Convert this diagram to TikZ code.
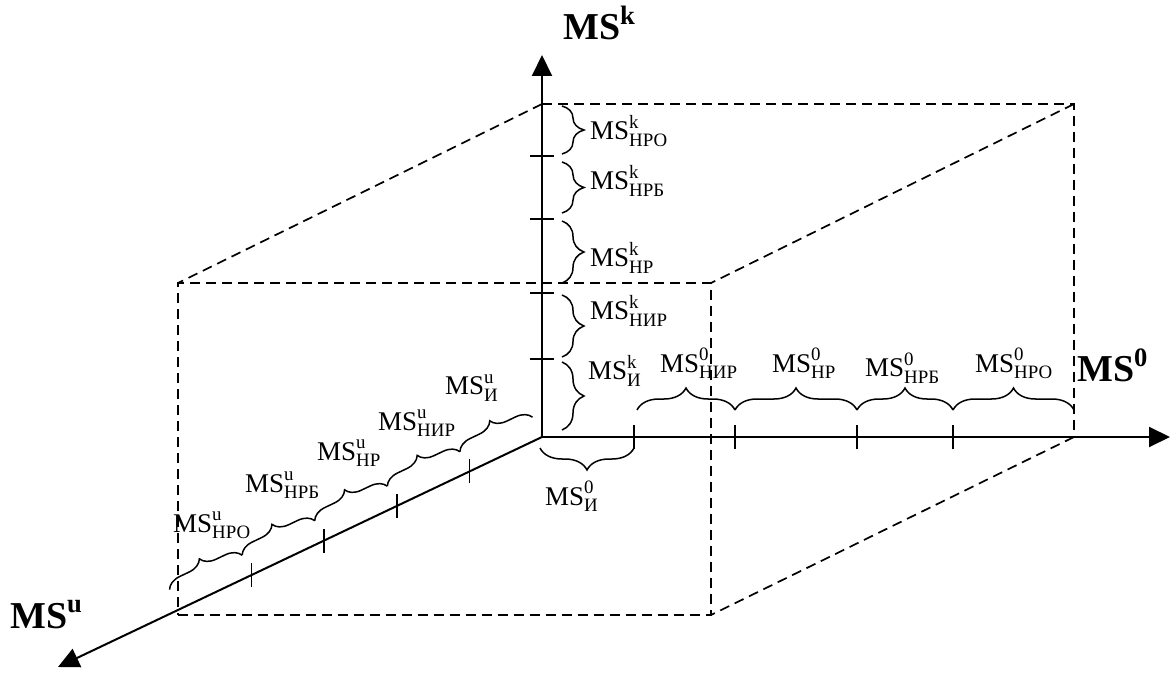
\documentclass[tikz,border=0pt]{standalone}
\usepackage{amsmath}
\usepackage{fontspec}
\setmainfont{Liberation Serif}
\usetikzlibrary{arrows.meta, decorations.pathreplacing, calc}

\begin{document}
\begin{tikzpicture}[x=1pt, y=1pt, >={Triangle[length=21pt, width=20pt]},
    axline/.style={line width=2pt},
    cubeedge/.style={line width=1.7pt, dash pattern=on 10pt off 6pt},
    axtick/.style={line width=1.7pt},
    vbrace/.style={decorate, decoration={brace, amplitude=22pt, raise=20pt}, line width=1.5pt},
    hbrace/.style={decorate, decoration={brace, amplitude=22pt, raise=27pt}, line width=1.5pt},
    lbrace/.style={decorate, decoration={brace, amplitude=22pt, raise=11pt}, line width=1.5pt},
    ubrace/.style={decorate, decoration={brace, amplitude=15pt, raise=22pt}, line width=1.5pt},
    lbl/.style={font=\fontsize{27}{30}\selectfont, inner sep=0pt, anchor=base west},
    axlbl/.style={font=\fontsize{38}{42}\selectfont\bfseries, inner sep=0pt, anchor=base west}]
    \useasboundingbox (0,0) rectangle (1173,673);
    % axes
    \coordinate (O) at (542,236);
    \coordinate (ktip) at (542,618);
    \coordinate (otip) at (1170,236);
    \coordinate (utip) at (58,6);
    % cube
    \coordinate (f1) at (178,58);
    \coordinate (f2) at (711,58);
    \coordinate (f3) at (711,390);
    \coordinate (f4) at (178,390);
    \coordinate (b2) at (1074,236);
    \coordinate (b3) at (1074,569);
    \coordinate (b4) at (542,569);
    \draw[cubeedge] (f1) -- (f2) -- (f3) -- (f4) -- cycle;
    \draw[cubeedge] (b4) -- (b3) -- (b2);
    \draw[cubeedge] (b4) -- (f4);
    \draw[cubeedge] (b3) -- (f3);
    \draw[cubeedge] (b2) -- (f2);
    \draw[axline,->] (O) -- (ktip);
    \draw[axline,->] (O) -- (otip);
    \draw[axline,->] (O) -- (utip);
    % ticks
    \coordinate (k1) at (542,314);
    \coordinate (k2) at (542,380);
    \coordinate (k3) at (542,454);
    \coordinate (k4) at (542,517);
    \coordinate (o1) at (634,236);
    \coordinate (o2) at (735,236);
    \coordinate (o3) at (857,236);
    \coordinate (o4) at (953,236);
    \coordinate (u1) at ($(O)!0.15!(utip)$);
    \coordinate (u2) at ($(O)!0.30!(utip)$);
    \coordinate (u3) at ($(O)!0.45!(utip)$);
    \coordinate (u4) at ($(O)!0.60!(utip)$);
    \coordinate (u5) at ($(O)!0.75!(utip)$);
    \draw[axtick] ($(k1)-(12,0)$) -- ($(k1)+(12,0)$);
    \draw[axtick] ($(k2)-(12,0)$) -- ($(k2)+(12,0)$);
    \draw[axtick] ($(k3)-(12,0)$) -- ($(k3)+(12,0)$);
    \draw[axtick] ($(k4)-(12,0)$) -- ($(k4)+(12,0)$);
    \draw[axtick] ($(o1)-(0,12)$) -- ($(o1)+(0,12)$);
    \draw[axtick] ($(o2)-(0,12)$) -- ($(o2)+(0,12)$);
    \draw[axtick] ($(o3)-(0,12)$) -- ($(o3)+(0,12)$);
    \draw[axtick] ($(o4)-(0,12)$) -- ($(o4)+(0,12)$);
    \draw[axtick] ($(u1)-(0,12)$) -- ($(u1)+(0,12)$);
    \draw[axtick] ($(u2)-(0,12)$) -- ($(u2)+(0,12)$);
    \draw[axtick] ($(u3)-(0,12)$) -- ($(u3)+(0,12)$);
    \draw[axtick] ($(u4)-(0,12)$) -- ($(u4)+(0,12)$);
    % braces
    \draw[vbrace] ($(b4)-(0,2)$) -- ($(k4)+(0,2)$);
    \draw[vbrace] ($(k4)-(0,6)$) -- ($(k3)+(0,6)$);
    \draw[vbrace] ($(k3)-(0,2)$) -- ($(k2)+(0,10)$);
    \draw[vbrace] ($(k2)-(0,2)$) -- ($(k1)+(0,2)$);
    \draw[vbrace] ($(k1)-(0,3)$) -- ($(O)+(0,7)$);
    \draw[lbrace] ($(o1)$) -- ($(O)-(2,0)$);
    \draw[hbrace] ($(o1)+(3,0)$) -- (o2);
    \draw[hbrace] (o2) -- (o3);
    \draw[hbrace] (o3) -- (o4);
    \draw[hbrace] (o4) -- (b2);
    \draw[ubrace] (u1) -- (O);
    \draw[ubrace] (u2) -- (u1);
    \draw[ubrace] (u3) -- (u2);
    \draw[ubrace] (u4) -- (u3);
    \draw[ubrace] (u5) -- (u4);
    % labels
    \node[axlbl] (msk) at (563,633) {$\text{MS}^{\text{k}}$};
    \node[axlbl] (ms0) at (1077,291) {$\text{MS}^{\text{0}}$};
    \node[axlbl] (msu) at (10,45) {$\text{MS}^{\text{u}}$};
    \node[lbl] (kHRO) at (590,533) {$\text{MS}^{\text{k}}_{\text{НРО}}$};
    \node[lbl] (kHRB) at (590,483) {$\text{MS}^{\text{k}}_{\text{НРБ}}$};
    \node[lbl] (kHR) at (590,406) {$\text{MS}^{\text{k}}_{\text{НР}}$};
    \node[lbl] (kHIR) at (590,353) {$\text{MS}^{\text{k}}_{\text{НИР}}$};
    \node[lbl] (kI) at (588,293) {$\text{MS}^{\text{k}}_{\text{И}}$};
    \node[lbl] (oI) at (545,168) {$\text{MS}^{\text{0}}_{\text{И}}$};
    \node[lbl] (oHIR) at (660,301) {$\text{MS}^{\text{0}}_{\text{НИР}}$};
    \node[lbl] (oHR) at (772,301) {$\text{MS}^{\text{0}}_{\text{НР}}$};
    \node[lbl] (oHRB) at (865,296) {$\text{MS}^{\text{0}}_{\text{НРБ}}$};
    \node[lbl] (oHRO) at (975,301) {$\text{MS}^{\text{0}}_{\text{НРО}}$};
    \node[lbl] (uI) at (445,278) {$\text{MS}^{\text{u}}_{\text{И}}$};
    \node[lbl] (uHIR) at (378,243) {$\text{MS}^{\text{u}}_{\text{НИР}}$};
    \node[lbl] (uHR) at (317,213) {$\text{MS}^{\text{u}}_{\text{НР}}$};
    \node[lbl] (uHRB) at (245,181) {$\text{MS}^{\text{u}}_{\text{НРБ}}$};
    \node[lbl] (uHRO) at (173,141) {$\text{MS}^{\text{u}}_{\text{НРО}}$};
\end{tikzpicture}
\end{document}
